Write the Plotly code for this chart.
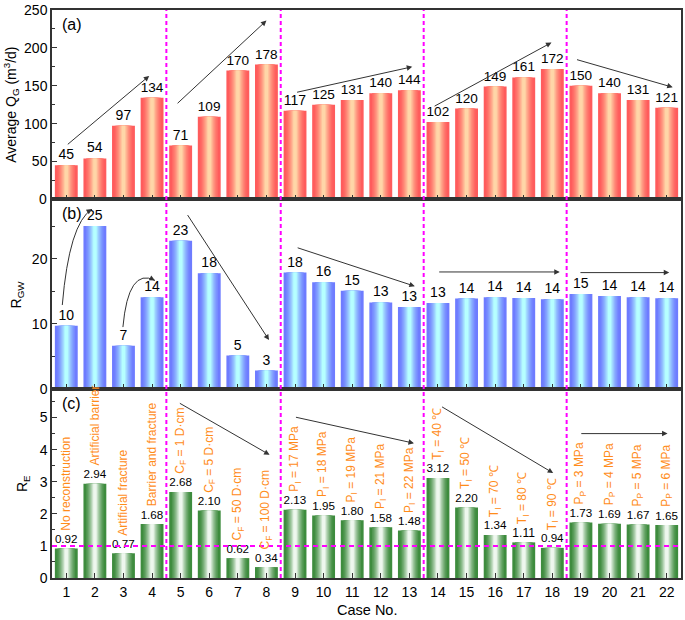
import numpy as np
import plotly.graph_objects as go

# ---- data ----
cases = list(range(1, 23))

q_gas = [45, 54, 97, 134, 71, 109, 170, 178, 117, 125, 131,
         140, 144, 102, 120, 149, 161, 172, 150, 140, 131, 121]

r_gw = [9.7, 25.1, 6.6, 14.1, 22.8, 17.8, 5.1, 2.8, 17.9, 16.4, 15.1,
        13.3, 12.6, 13.2, 13.9, 14.1, 14.0, 13.8, 14.6, 14.3, 14.1, 13.95]

r_e = [0.92, 2.94, 0.77, 1.68, 2.68, 2.10, 0.62, 0.34, 2.13, 1.95, 1.80,
       1.58, 1.48, 3.12, 2.20, 1.34, 1.11, 0.94, 1.73, 1.69, 1.67, 1.65]

case_labels = [
    'No reconstruction', 'Artificial barrier', 'Artificial fracture',
    'Barrier and fracture',
    'C<sub>F</sub> = 1 D·cm', 'C<sub>F</sub> = 5 D·cm',
    'C<sub>F</sub> = 50 D·cm', 'C<sub>F</sub> = 100 D·cm',
    'P<sub>I</sub> = 17 MPa', 'P<sub>I</sub> = 18 MPa',
    'P<sub>I</sub> = 19 MPa', 'P<sub>I</sub> = 21 MPa',
    'P<sub>I</sub> = 22 MPa',
    'T<sub>I</sub> = 40 ℃', 'T<sub>I</sub> = 50 ℃', 'T<sub>I</sub> = 70 ℃',
    'T<sub>I</sub> = 80 ℃', 'T<sub>I</sub> = 90 ℃',
    'P<sub>P</sub> = 3 MPa', 'P<sub>P</sub> = 4 MPa',
    'P<sub>P</sub> = 5 MPa', 'P<sub>P</sub> = 6 MPa',
]

group_breaks = [4.5, 8.5, 13.5, 18.5]

# trend arrows: (tail_x, tail_y, head_x, head_y)
arrows_a = [(1.0, 71, 3.9, 163), (4.84, 125, 8.0, 236),
            (9.02, 141, 13.1, 175), (13.83, 122, 17.97, 207),
            (18.81, 185, 22.21, 148)]
arrows_b = [(5.21, 27.0, 8.09, 7.5), (9.04, 21.8, 13.19, 15.8),
            (13.99, 18.0, 18.26, 18.0), (18.93, 17.9, 22.09, 17.9)]
arrows_c = [(4.92, 5.47, 8.11, 3.84), (8.98, 5.02, 13.16, 4.2),
            (14.09, 5.36, 18.03, 3.27), (18.96, 4.5, 22.03, 4.5)]
# curved arrows in (b): start, control, end
curves_b = [((0.86, 12.9), (1.1, 25.5), (1.9, 27.7)),
            ((2.98, 9.5), (3.17, 18.8), (4.1, 16.7))]

FONT = 'Arial, Liberation Sans, sans-serif'


def hex2rgb(h):
    h = h.lstrip('#')
    return np.array([int(h[i:i + 2], 16) for i in (0, 2, 4)], dtype=float)


def gradient_bars(fig, y, edge, centre, row, text=None, n=10, width=0.8):
    e, c = hex2rgb(edge), hex2rgb(centre)
    for k in range(n):
        t = k / (n - 1)
        col = e + (c - e) * t
        w = width * (1 - 0.92 * (k / n) ** 0.6)
        tr = go.Bar(x=cases, y=y, width=w,
                    marker=dict(color='rgb(%d,%d,%d)' % tuple(col),
                                line=dict(width=0)),
                    showlegend=False, hoverinfo='skip',
                    xaxis='x' if row == 1 else 'x%d' % row,
                    yaxis='y' if row == 1 else 'y%d' % row)
        if k == 0 and text is not None:
            tr.update(text=text, textposition='outside', cliponaxis=False,
                      outsidetextfont=dict(size=14, color='black',
                                           family=FONT))
        fig.add_trace(tr)


fig = go.Figure()
gradient_bars(fig, q_gas, '#FF5C5C', '#FFD6A8', 1,
              text=[str(v) for v in q_gas])
gradient_bars(fig, r_gw, '#6E7CFF', '#B6FFFF', 2,
              text=['%d' % round(v) for v in r_gw])
gradient_bars(fig, r_e, '#3E8C3E', '#EEF7EE', 3,
              text=['%.2f' % v for v in r_e])

axis_common = dict(showline=True, linecolor='#333', linewidth=1.5,
                   mirror=True, ticks='inside', ticklen=5, tickcolor='#333',
                   showgrid=False, zeroline=False, ticklabeloverflow='allow',
                   tickfont=dict(size=14, color='black', family=FONT))

xaxis = dict(axis_common, range=[0.5, 22.5], tickmode='linear', tick0=1,
             dtick=1)
fig.update_layout(
    xaxis=dict(xaxis, anchor='y', showticklabels=False, matches='x3'),
    xaxis2=dict(xaxis, anchor='y2', showticklabels=False, matches='x3'),
    xaxis3=dict(xaxis, anchor='y3'),
    yaxis=dict(axis_common, domain=[2 / 3, 1], range=[0, 250],
               tickvals=[50, 100, 150, 200, 250],
               minor=dict(ticks='inside', ticklen=3, dtick=25,
                          tickcolor='#333')),
    yaxis2=dict(axis_common, domain=[1 / 3, 2 / 3], range=[0, 29.2],
                tickvals=[0, 10, 20],
                minor=dict(ticks='inside', ticklen=3, dtick=5,
                           tickcolor='#333')),
    yaxis3=dict(axis_common, domain=[0, 1 / 3], range=[0, 5.9], dtick=1,
                minor=dict(ticks='inside', ticklen=3, dtick=0.5,
                           tickcolor='#333')),
    barmode='overlay',
    width=685, height=620,
    margin=dict(l=52, r=2, t=7, b=42),
    plot_bgcolor='white', paper_bgcolor='white',
    font=dict(family=FONT, size=14, color='black'),
)

shapes = []
for xb in group_breaks:
    shapes.append(dict(type='line', xref='x', yref='paper', x0=xb, x1=xb,
                       y0=0, y1=1,
                       line=dict(color='#FF00FF', width=2, dash='4px,3px')))
shapes.append(dict(type='line', xref='paper', yref='y3', x0=0, x1=1,
                   y0=1, y1=1,
                   line=dict(color='#FF00FF', width=2, dash='5px,4px')))

annotations = []


def arrow(xr, yr, tail, head):
    return dict(xref=xr, yref=yr, axref=xr, ayref=yr, x=head[0], y=head[1],
                ax=tail[0], ay=tail[1], text='', showarrow=True,
                arrowhead=2, arrowsize=1.1, arrowwidth=1, arrowcolor='#333')


for xr, yr, arr in (('x', 'y', arrows_a), ('x2', 'y2', arrows_b),
                    ('x3', 'y3', arrows_c)):
    for x0, y0, x1, y1 in arr:
        annotations.append(arrow(xr, yr, (x0, y0), (x1, y1)))

for p0, pc, p1 in curves_b:
    shapes.append(dict(type='path', xref='x2', yref='y2',
                       path='M %f,%f Q %f,%f %f,%f' % (p0 + pc + p1),
                       line=dict(color='#333', width=1)))
    tail = (p1[0] - 0.12 * (p1[0] - pc[0]), p1[1] - 0.12 * (p1[1] - pc[1]))
    annotations.append(arrow('x2', 'y2', tail, p1))

for c, v, lab in zip(cases, r_e, case_labels):
    annotations.append(dict(xref='x3', yref='y3', x=c, y=v, yshift=16,
                            text=lab, textangle=-90, showarrow=False,
                            xanchor='center', yanchor='bottom',
                            font=dict(size=12, color='#FF8C1A',
                                      family=FONT)))

for lab, y in (('(a)', 1.0), ('(b)', 2 / 3), ('(c)', 1 / 3)):
    annotations.append(dict(xref='paper', yref='paper', x=0.012, y=y,
                            yshift=-4, text=lab, showarrow=False,
                            xanchor='left', yanchor='top',
                            font=dict(size=16, family=FONT)))

for txt, xp, yp in (('Average Q<sub>G</sub> (m<sup>3</sup>/d)', -0.065, 5 / 6),
                    ('R<sub>GW</sub>', -0.055, 0.5),
                    ('R<sub>E</sub>', -0.045, 1 / 6)):
    annotations.append(dict(xref='paper', yref='paper', x=xp, y=yp,
                            text=txt, textangle=-90, showarrow=False,
                            xanchor='center', yanchor='middle',
                            font=dict(size=14, family=FONT)))

# the bottom "0" of panel (a) is dropped by plotly, so put it back by hand
annotations.append(dict(xref='paper', yref='y', x=0, y=0, xshift=-3,
                        text='0', showarrow=False, xanchor='right',
                        yanchor='middle', font=dict(size=14, family=FONT)))

annotations.append(dict(xref='paper', yref='paper', x=0.5, y=0, yshift=-32,
                        text='Case No.', showarrow=False, xanchor='center',
                        yanchor='middle', font=dict(size=14.5, family=FONT)))

fig.update_layout(shapes=shapes, annotations=annotations)

fig.write_html('out.html', config={'displayModeBar': False},
               post_script="document.body.style.margin='0';"
                           "document.body.style.overflow='hidden';")
